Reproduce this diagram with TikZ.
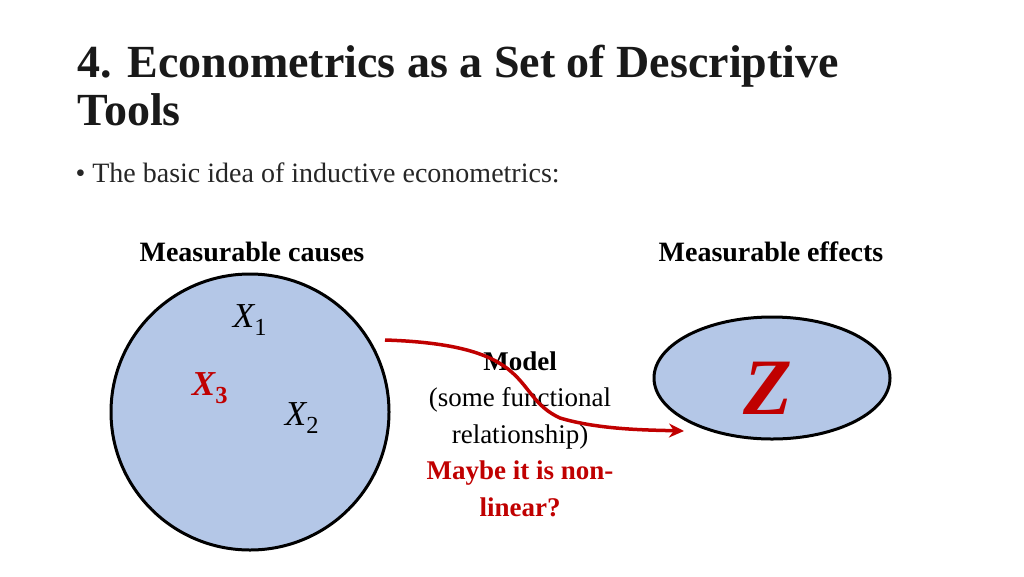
\documentclass[tikz,border=0pt]{standalone}
\usepackage{fontspec}
\setmainfont{Liberation Serif}
\usetikzlibrary{arrows.meta}
\definecolor{fillb}{HTML}{B4C7E7}
\definecolor{dred}{HTML}{C00000}
\begin{document}
\begin{tikzpicture}[x=1pt,y=-1pt,
  lab/.style={font=\fontsize{28}{30}\selectfont\bfseries},
  body/.style={font=\fontsize{27}{36.5}\selectfont,align=center},
  var/.style={font=\fontsize{35}{35}\selectfont\itshape}]
\useasboundingbox (0,0) rectangle (1024,576);
\node[anchor=west,font=\fontsize{46}{48}\selectfont\bfseries,align=left,text=black!90] (title) at (74,86) {4. Econometrics as a Set of Descriptive\\Tools};
\node[anchor=west,font=\fontsize{28}{30}\selectfont,text=black!85] (bul) at (72,173) {\textbullet\ The basic idea of inductive econometrics:};
\node[lab] (lc) at (252,252) {Measurable causes};
\node[lab] (rc) at (771,252) {Measurable effects};
\draw[line width=3pt,fill=fillb] (250,412) ellipse [x radius=139, y radius=138];
\node (L) at (250,412) {};
\draw[line width=3pt,fill=fillb] (772,378) ellipse [x radius=118, y radius=61];
\node (R) at (772,378) {};
\node[var] (x1) at (250,320) {X\textsubscript{\upshape 1}};
\node[var,text=dred,font=\fontsize{35}{35}\selectfont\bfseries\itshape] (x3) at (210,388) {X\textsubscript{\upshape 3}};
\node[var] (x2) at (302,418) {X\textsubscript{\upshape 2}};
\node[text=dred,font=\fontsize{80}{80}\selectfont\bfseries\itshape] (z) at (768,388) {Z};
\node[body] (m) at (520,434) {\textbf{Model}\\(some functional\\relationship)\\\textcolor{dred}{\textbf{Maybe it is non-}}\\\textcolor{dred}{\textbf{linear?}}};
\coordinate (a0) at (385,340);
\coordinate (a1) at (684,431);
\draw[dred,line width=3.5pt,-{Stealth[length=15pt,width=14pt]}] (a0) .. controls (540,345) and (510,395) .. (560,418) .. controls (600,430) and (650,430) .. (a1);
\end{tikzpicture}
\end{document}
